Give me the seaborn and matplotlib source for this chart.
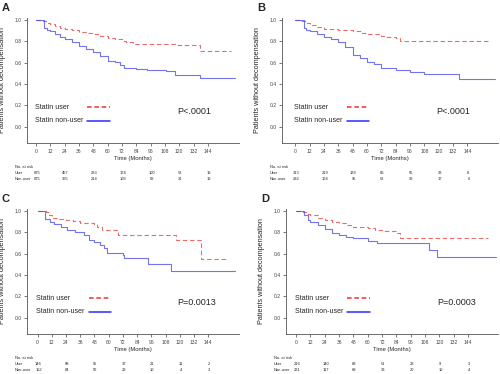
import matplotlib
matplotlib.use("Agg")
import matplotlib.pyplot as plt
import seaborn as sns
import pandas as pd

sns.set_style("ticks")
plt.rcParams['font.family'] = ['Liberation Sans', 'DejaVu Sans']

# ---- data ----
risk_months = [0, 24, 48, 72, 96, 120, 144]

# Panel A
a_user_t = [0, 6, 9, 12, 16, 20, 24, 30, 36, 42, 48, 54, 60, 66, 72, 75, 81, 96, 116, 137, 163]
a_user_s = [1.0, 0.99, 0.975, 0.96, 0.945, 0.93, 0.92, 0.905, 0.89, 0.88, 0.865, 0.85, 0.835, 0.82, 0.805, 0.796, 0.772, 0.772, 0.765, 0.713, 0.713]
a_non_t = [0, 7, 9, 12, 16, 20, 24, 30, 36, 42, 48, 54, 60, 66, 70, 74, 84, 93, 109, 116, 137, 167]
a_non_s = [1.0, 0.93, 0.91, 0.895, 0.87, 0.845, 0.825, 0.79, 0.76, 0.73, 0.70, 0.665, 0.62, 0.61, 0.58, 0.55, 0.545, 0.53, 0.52, 0.48, 0.456, 0.456]
a_risk_user = [675, 457, 283, 174, 100, 53, 13]
a_risk_non = [675, 365, 214, 109, 62, 31, 13]

# Panel B
b_user_t = [0, 5, 9, 12, 18, 24, 36, 48, 56, 60, 72, 76, 84, 88, 163]
b_user_s = [1.0, 0.99, 0.97, 0.955, 0.935, 0.92, 0.908, 0.895, 0.88, 0.87, 0.855, 0.84, 0.834, 0.806, 0.806]
b_non_t = [0, 7, 9, 12, 18, 24, 30, 36, 42, 48, 54, 60, 66, 72, 84, 96, 108, 137, 167]
b_non_s = [1.0, 0.926, 0.91, 0.90, 0.87, 0.84, 0.82, 0.79, 0.75, 0.67, 0.64, 0.61, 0.59, 0.548, 0.53, 0.514, 0.495, 0.45, 0.45]
b_risk_user = [313, 219, 139, 86, 56, 33, 8]
b_risk_non = [292, 164, 95, 53, 32, 17, 6]

# Panel C
c_user_t = [0, 7, 10, 12, 18, 24, 30, 36, 42, 48, 50, 54, 68, 117, 138, 161]
c_user_s = [1.0, 0.99, 0.96, 0.94, 0.93, 0.92, 0.905, 0.89, 0.885, 0.88, 0.85, 0.826, 0.778, 0.733, 0.548, 0.548]
c_non_t = [0, 6.5, 10.5, 14, 20, 25, 32, 39, 43, 48, 53, 56, 58.5, 72, 73, 93, 113, 167]
c_non_s = [1.0, 0.93, 0.90, 0.88, 0.85, 0.825, 0.80, 0.778, 0.73, 0.71, 0.686, 0.65, 0.61, 0.585, 0.56, 0.507, 0.434, 0.434]
c_risk_user = [146, 98, 55, 37, 21, 11, 2]
c_risk_non = [152, 84, 50, 23, 10, 4, 3]

# Panel D
d_user_t = [0, 6, 9, 12, 18, 24, 30, 36, 42, 48, 60, 66, 72, 84, 87, 161]
d_user_s = [1.0, 0.99, 0.97, 0.96, 0.94, 0.92, 0.90, 0.885, 0.865, 0.85, 0.84, 0.825, 0.815, 0.79, 0.75, 0.75]
d_non_t = [0, 7, 10, 12, 18, 24, 30, 36, 42, 48, 60, 68, 111, 118, 167]
d_non_s = [1.0, 0.96, 0.92, 0.90, 0.87, 0.83, 0.79, 0.775, 0.755, 0.745, 0.72, 0.70, 0.635, 0.57, 0.57]
d_risk_user = [216, 140, 89, 51, 23, 9, 3]
d_risk_non = [231, 117, 69, 33, 20, 10, 4]

p_values = ["P<.0001", "P<.0001", "P=0.0013", "P=0.0003"]
letters = ["A", "B", "C", "D"]

W, H = 500, 374
fig = plt.figure(figsize=(5, 3.74), dpi=100)

# axes boxes in pixels: left, top, right, bottom ; and x limits
boxes = [(27, 18, 239, 143, (-7.5, 170)),
         (282, 18, 498, 143, (-11, 169.6)),
         (27, 209, 239, 334, (-8.9, 170)),
         (286, 209, 498, 334, (-8.4, 169))]

RED = "#e23c3c"
BLUE = "#4646f0"


def draw_panel(box, user_t, user_s, non_t, non_s, risk_user, risk_non, pval, letter):
    left, top, right, bottom, xlim = box
    ax = fig.add_axes([left / W, 1 - bottom / H, (right - left) / W, (bottom - top) / H])
    df = pd.concat([
        pd.DataFrame({"time": user_t, "surv": user_s, "group": "Statin user"}),
        pd.DataFrame({"time": non_t, "surv": non_s, "group": "Statin non-user"}),
    ])
    sns.lineplot(data=df, x="time", y="surv", hue="group", style="group",
                 palette={"Statin user": RED, "Statin non-user": BLUE},
                 dashes={"Statin user": (4, 2.5), "Statin non-user": ""},
                 drawstyle="steps-post", estimator=None, sort=False,
                 legend=False, linewidth=0.8, alpha=0.75, ax=ax)
    ax.set_xlim(*xlim)
    ax.set_ylim(-0.155, 1.02)
    ax.set_xticks(range(0, 145, 12))
    ax.set_yticks([0, 0.2, 0.4, 0.6, 0.8, 1.0])
    ax.set_yticklabels(["0.0", "0.2", "0.4", "0.6", "0.8", "1.0"])
    ax.tick_params(labelsize=3.6, length=2, width=0.5, pad=2, colors="#444444")
    for s in ["left", "bottom"]:
        ax.spines[s].set_linewidth(0.6)
        ax.spines[s].set_color("#555555")
    sns.despine(ax=ax)
    ax.set_xlabel("Time (Months)", fontsize=4.2, labelpad=2)
    ax.set_ylabel("Patients without decompensation", fontsize=5.2, labelpad=6)

    # legend entries
    ax.text(-1, 0.18, "Statin user", fontsize=5, va="center")
    ax.text(-1, 0.058, "Statin non-user", fontsize=5, va="center")
    ax.plot([43, 62], [0.18, 0.18], color="#f03030", lw=1.1, ls=(0, (3, 1.8)))
    ax.plot([43, 62], [0.055, 0.055], color="#2a2aff", lw=1.1)
    ax.text(118, 0.14, pval, fontsize=6.5, va="center")

    # panel letter
    fig.text((left - 25) / W, 1 - (top - 10) / H, letter, fontsize=8, fontweight="bold",
             va="center", ha="left")

    # numbers at risk
    lab_x = (left - 12) / W
    rows = [("No. at risk", None, 24), ("User", risk_user, 30), ("Non-user", risk_non, 36)]
    for label, vals, dy in rows:
        y = 1 - (bottom + dy) / H
        fig.text(lab_x, y, label, fontsize=2.9, va="center", ha="left")
        if vals is None:
            continue
        for m, v in zip(risk_months, vals):
            px = ax.transData.transform((m, 0))[0]
            fig.text((px + 1) / W, y, str(v), fontsize=2.9, va="center", ha="center")
    return ax


draw_panel(boxes[0], a_user_t, a_user_s, a_non_t, a_non_s, a_risk_user, a_risk_non, p_values[0], letters[0])
draw_panel(boxes[1], b_user_t, b_user_s, b_non_t, b_non_s, b_risk_user, b_risk_non, p_values[1], letters[1])
draw_panel(boxes[2], c_user_t, c_user_s, c_non_t, c_non_s, c_risk_user, c_risk_non, p_values[2], letters[2])
draw_panel(boxes[3], d_user_t, d_user_s, d_non_t, d_non_s, d_risk_user, d_risk_non, p_values[3], letters[3])

fig.savefig("out.png", dpi=100)
